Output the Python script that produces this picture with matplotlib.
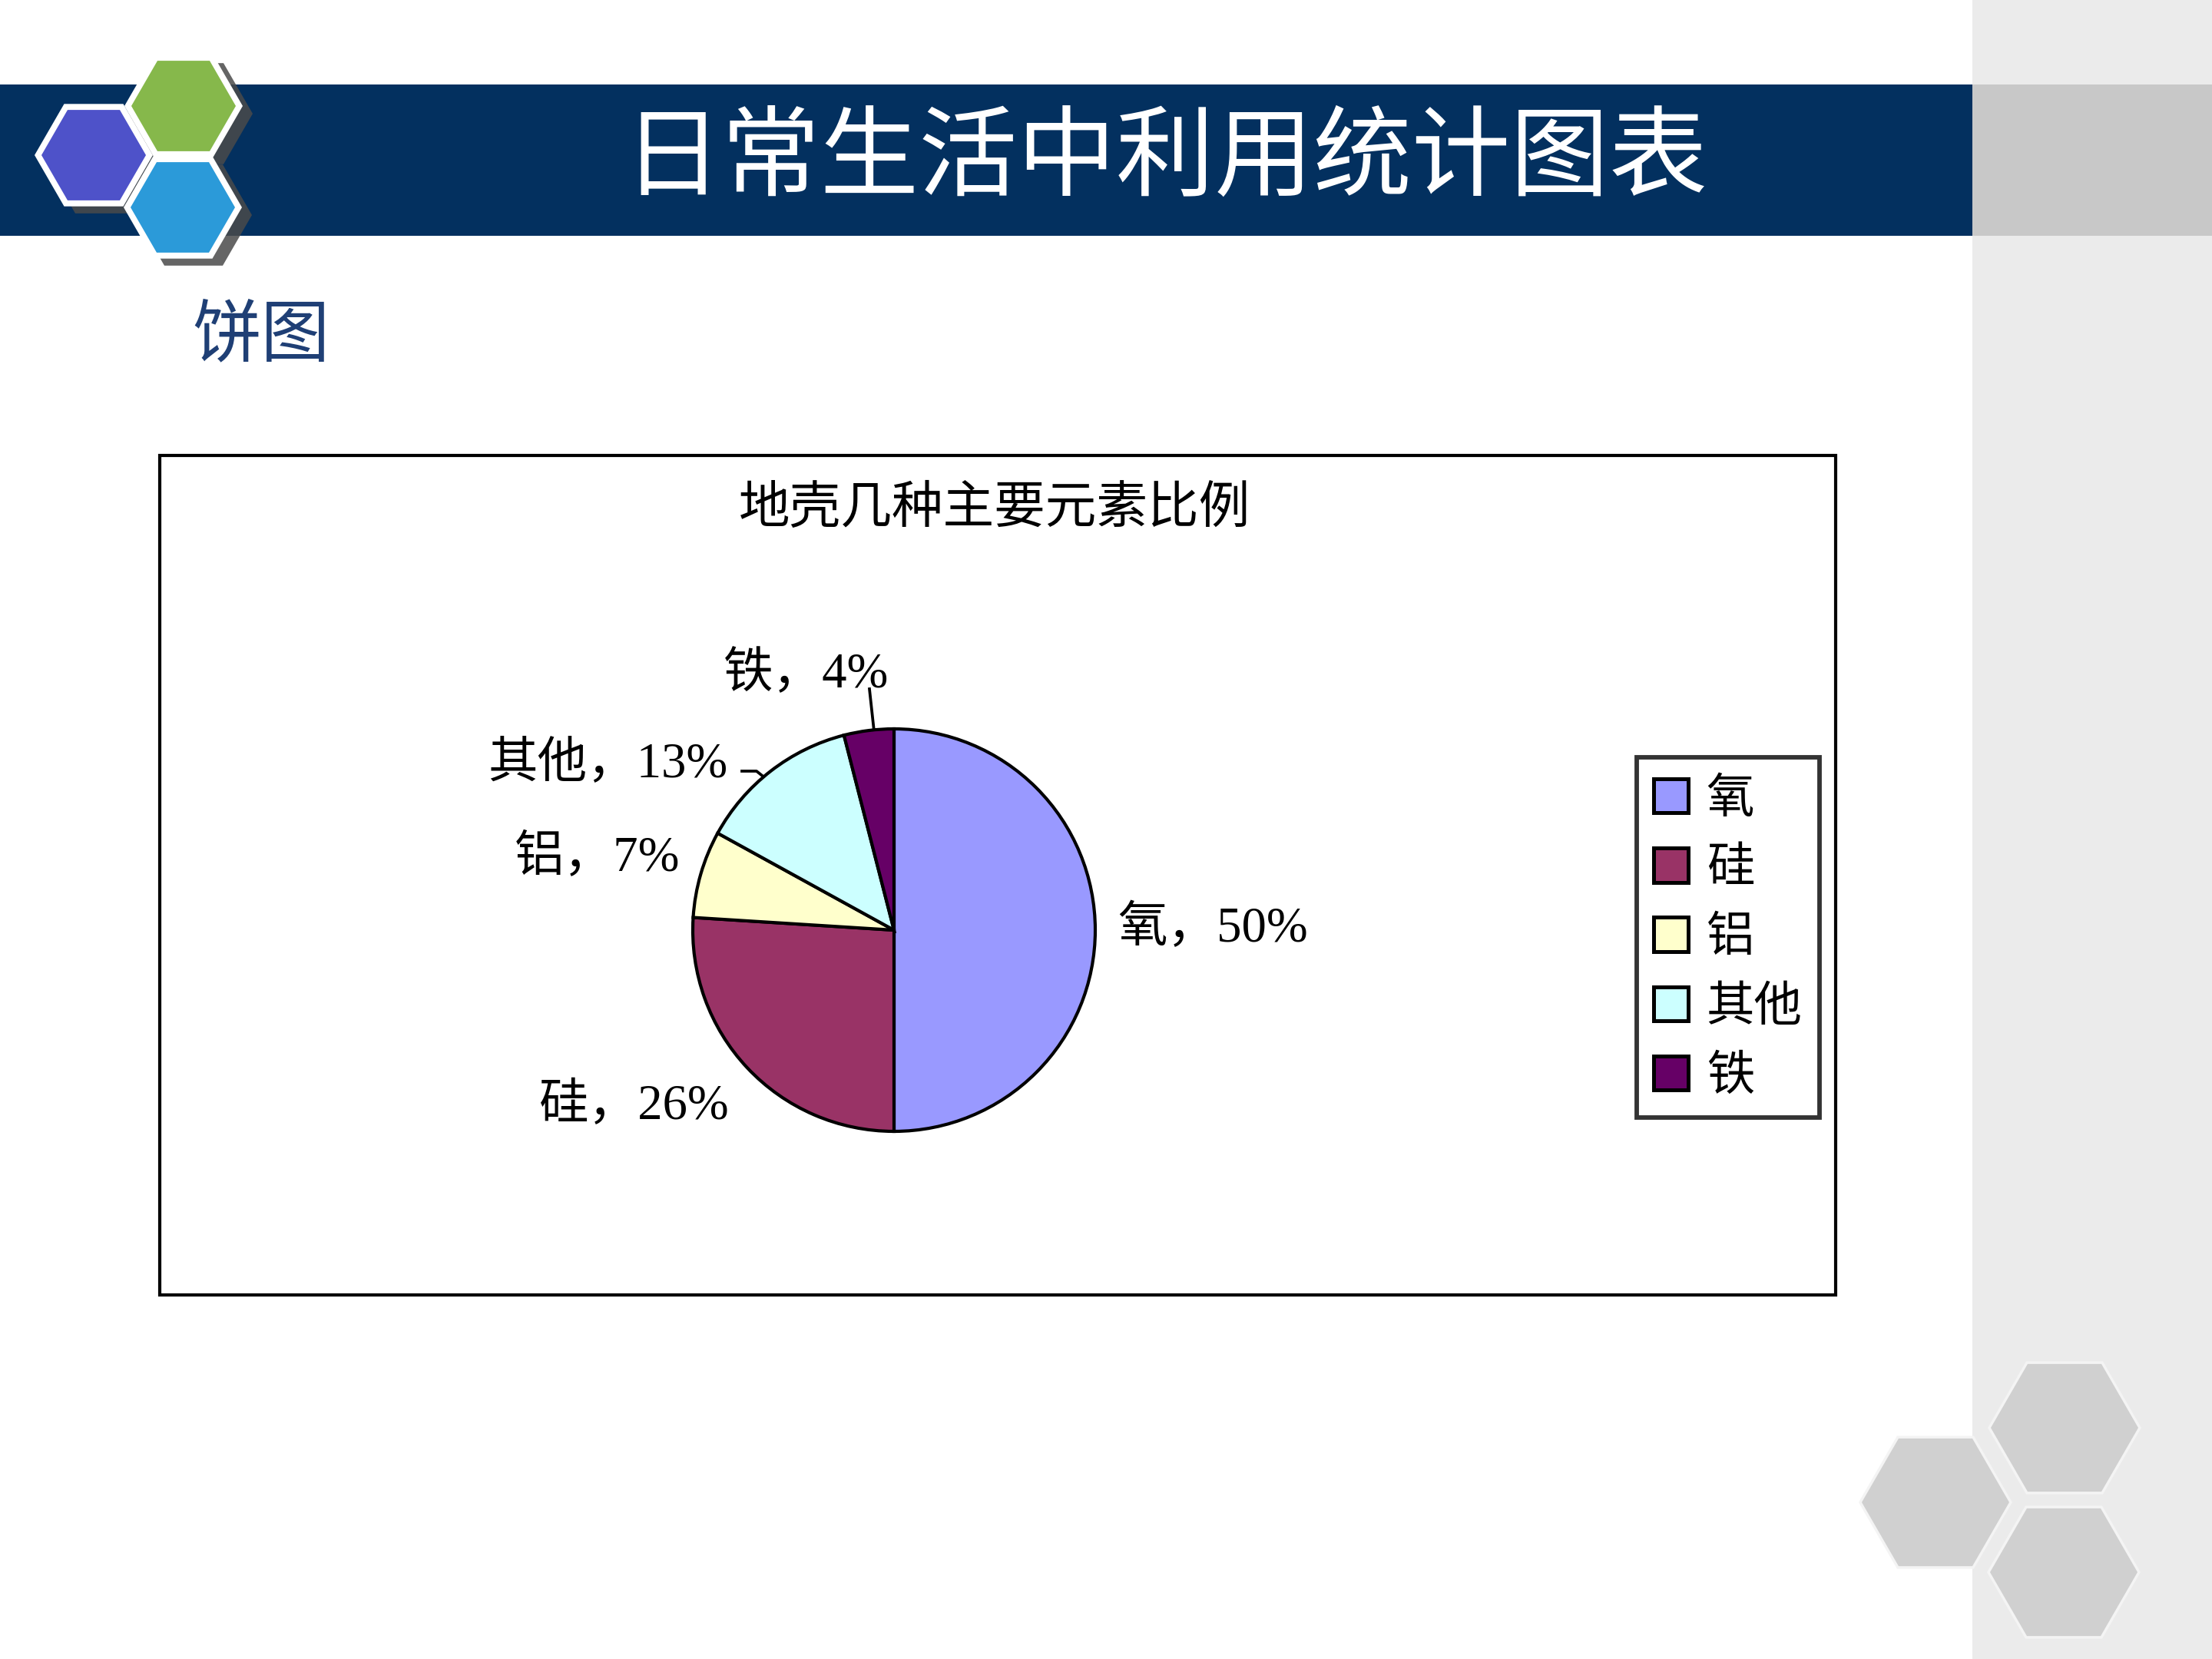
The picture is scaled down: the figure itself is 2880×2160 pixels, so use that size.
"""
Slide: 日常生活中利用统计图表 / 饼图 - 地壳几种主要元素比例
"""

import matplotlib.pyplot as plt
from matplotlib.patches import Rectangle, RegularPolygon
import numpy as np

plt.rcParams["font.family"] = ["Noto Sans CJK SC", "DejaVu Sans"]

# Data
elements = ["氧", "硅", "铝", "其他", "铁"]
shares = [50, 26, 7, 13, 4]
colors = ["#9999FF", "#993366", "#FFFFCC", "#CCFFFF", "#660066"]

slide_title = "日常生活中利用统计图表"
section_title = "饼图"
chart_title = "地壳几种主要元素比例"

W, H = 2880, 2160
fig = plt.figure(figsize=(9.6, 7.2), dpi=300)

# background axes in pixel coordinates (y down)
bg = fig.add_axes([0, 0, 1, 1])
bg.set_xlim(0, W)
bg.set_ylim(H, 0)
bg.axis("off")

# right grey strip + header band
bg.add_patch(Rectangle((2568, 0), W - 2568, H, color="#EBEBEB", lw=0))
bg.add_patch(Rectangle((0, 110), 2568, 197, color="#03305F", lw=0))
bg.add_patch(Rectangle((2568, 110), W - 2568, 197, color="#C8C8C8", lw=0))


def hexagon(cx, cy, r, color, **kw):
    bg.add_patch(RegularPolygon((cx, cy), 6, radius=r, orientation=np.pi / 6,
                                facecolor=color, edgecolor="none", **kw))


# logo hexagons (shadow, white rim, fill)
logo = [(122, 202, "#4E52C9"), (239, 138, "#86B84B"), (238, 270, "#2B9AD9")]
for cx, cy, _ in logo:
    hexagon(cx + 14, cy + 10, 76, "#4A4A4A", alpha=0.85)
for cx, cy, _ in logo:
    hexagon(cx, cy, 77, "white")
for cx, cy, c in logo:
    hexagon(cx, cy, 68, c)

# bottom-right grey hexagons
for cx, cy in [(2688, 1859), (2520, 1956), (2687, 2047)]:
    hexagon(cx, cy, 100, "#F4F4F4")
    hexagon(cx, cy, 96, "#D0D0D0")

# texts
bg.text(1517, 208, slide_title, color="white", fontsize=30.8,
        ha="center", va="center")
bg.text(340, 438, section_title, color="#1F3F75", fontsize=21.5,
        ha="center", va="center")

# chart frame
bg.add_patch(Rectangle((208, 593), 2390 - 208, 1686 - 593, facecolor="white",
                       edgecolor="black", lw=1.0))
bg.text(1295, 662, chart_title, color="black", fontsize=16,
        ha="center", va="center")

# pie
cx, cy, r = 1164, 1211, 262
ax = fig.add_axes([(cx - r) / W, (H - cy - r) / H, 2 * r / W, 2 * r / H])
wedges, _ = ax.pie(shares, colors=colors, startangle=90, counterclock=False,
                   wedgeprops=dict(edgecolor="black", linewidth=1.0))
ax.set_xlim(-1, 1)
ax.set_ylim(-1, 1)
ax.axis("off")

# data labels (pixel positions on the slide)
label_pos = [(1455, 1209, "left"), (950, 1440, "right"), (885, 1118, "right"),
             (947, 995, "right"), (1157, 879, "right")]
lab_font = ["Liberation Serif", "Noto Sans CJK SC"]
for name, v, (x, y, ha) in zip(elements, shares, label_pos):
    bg.text(x, y, f"{name}，{v}%", fontsize=15.5, ha=ha, va="center",
            family=lab_font, zorder=5)

# leader lines for the small slices
bg.plot([966, 985, 1000], [1004, 1004, 1016], color="black", lw=0.9, zorder=5)
bg.plot([1132, 1138], [897, 952], color="black", lw=0.9, zorder=5)

# legend
leg = ax.legend(wedges, elements, loc="upper left",
                bbox_to_anchor=(2131 / W, 1 - 986 / H),
                bbox_transform=fig.transFigure, fontsize=15,
                handlelength=0.72, handleheight=0.72, handletextpad=0.38,
                labelspacing=0.42, borderpad=0.35, borderaxespad=0,
                frameon=True, fancybox=False)
leg.get_frame().set_edgecolor("black")
leg.get_frame().set_linewidth(1.4)
for h in leg.legend_handles:
    h.set_linewidth(1.2)

fig.savefig("out.png", dpi=300)
